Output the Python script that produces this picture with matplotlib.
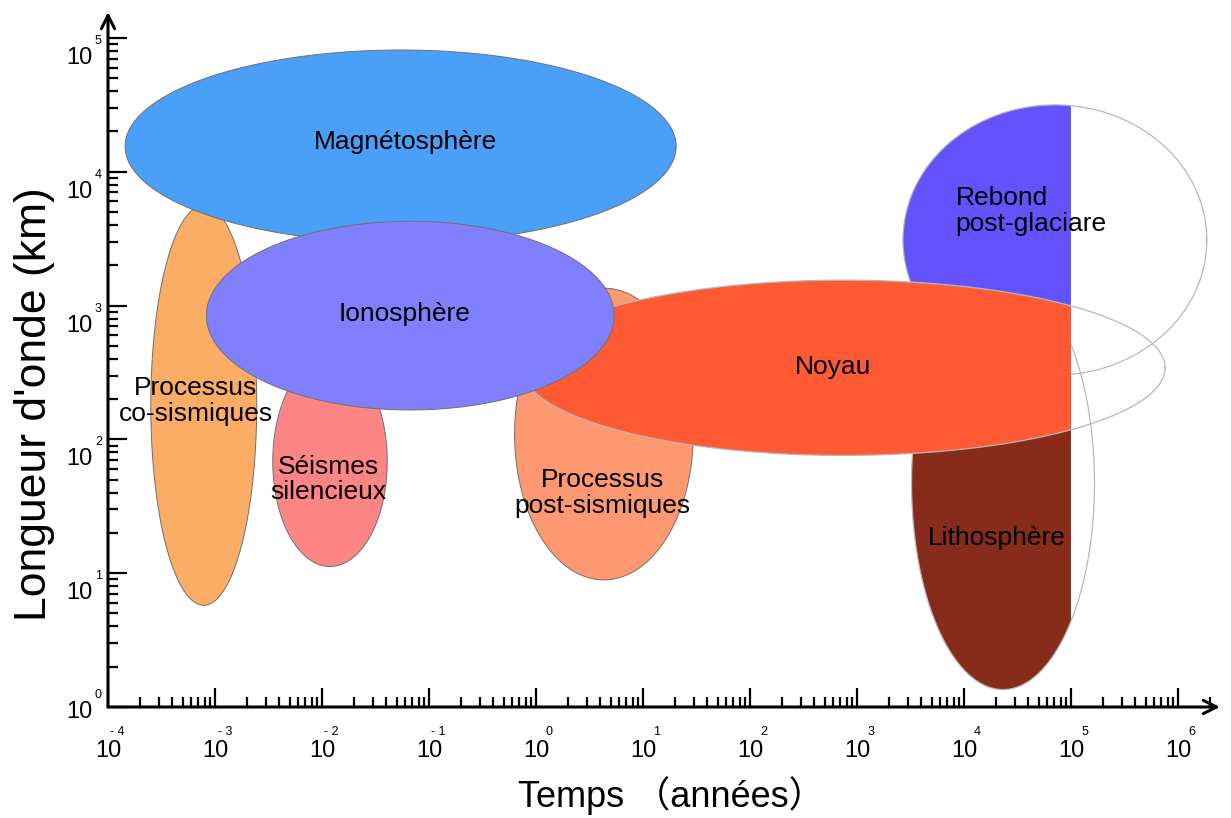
import numpy as np
import matplotlib.pyplot as plt
from matplotlib.transforms import blended_transform_factory, offset_copy

plt.rcParams['font.family'] = ['Liberation Sans', 'DejaVu Sans']

# Domaines, dans l'ordre de dessin (du fond vers l'avant)
# étendues en exposants décimaux : temps en années, longueur d'onde en km
domaines = ['Processus\nco-sismiques', 'Magnétosphère', 'Séismes\nsilencieux',
            'Processus\npost-sismiques', 'Lithosphère', 'Rebond\npost-glaciare',
            'Noyau', 'Ionosphère']
t_bas = [-3.60, -3.84, -2.46, -0.20, 3.51, 3.43, -0.13, -3.08]
t_haut = [-2.61, 1.31, -1.39, 1.47, 5.22, 6.27, 5.88, 0.73]
l_bas = [0.76, 3.47, 1.05, 0.95, 0.13, 2.48, 1.88, 2.22]
l_haut = [3.75, 4.91, 2.62, 3.13, 3.22, 4.50, 3.19, 3.63]
couleurs = ['#fbad66', '#4aa0f8', '#fe8585', '#fe9870', '#872b1b', '#6452fe',
            '#ff5a33', '#8080fe']
# seule la partie avant 1e5 ans est remplie pour ces domaines
coupe = [False, False, False, False, True, True, True, False]
t_coupe = 5.0

# position des étiquettes (exposants)
etiq_t = [-3.18, -1.22, -1.94, 0.62, 4.31, 3.92, 2.78, -1.23]
etiq_l = [2.29, 4.22, 1.70, 1.60, 1.26, 3.71, 2.54, 2.94]
etiq_ha = ['center'] * 5 + ['left'] + ['center'] * 2

x_exp = np.arange(-4, 7)
y_exp = np.arange(0, 6)

fig = plt.figure(figsize=(12.31, 8.18), dpi=100)
ax = fig.add_axes([108 / 1231, 111 / 818, 1112 / 1231, 695 / 818])
ax.set_xscale('log')
ax.set_yscale('log')

th = np.linspace(0, 2 * np.pi, 721)
for i in range(len(domaines)):
    cx, rx = (t_bas[i] + t_haut[i]) / 2, (t_haut[i] - t_bas[i]) / 2
    cy, ry = (l_bas[i] + l_haut[i]) / 2, (l_haut[i] - l_bas[i]) / 2
    lx = cx + rx * np.cos(th)
    ly = cy + ry * np.sin(th)
    z = 2 + i
    if coupe[i]:
        ax.fill(10 ** np.minimum(lx, t_coupe), 10 ** ly, color=couleurs[i], lw=0, zorder=z)
        ax.plot(10 ** lx, 10 ** ly, color='#b8b8b8', lw=0.9, zorder=z)
    else:
        ax.fill(10 ** lx, 10 ** ly, facecolor=couleurs[i], edgecolor='#707070',
                lw=0.7, zorder=z)

for i in range(len(domaines)):
    ax.text(10 ** etiq_t[i], 10 ** etiq_l[i], domaines[i], ha=etiq_ha[i], va='center',
            fontsize=19, linespacing=1.1, zorder=20, color='black')

# axes avec flèches
for s in ax.spines.values():
    s.set_visible(False)
for bout in [(1, 0), (0, 1)]:
    ax.annotate('', xy=bout, xytext=(0, 0), xycoords='axes fraction',
                arrowprops=dict(arrowstyle='->', lw=2.2, color='black',
                                mutation_scale=24, shrinkA=0, shrinkB=0),
                annotation_clip=False, zorder=30)

ax.set_xticks(10.0 ** x_exp)
ax.set_yticks(10.0 ** y_exp)
ax.set_xticks([m * 10.0 ** k for k in x_exp[:-1] for m in range(2, 10)] + [2e6], minor=True)
ax.set_yticks([m * 10.0 ** k for k in y_exp[:-1] for m in range(2, 10)], minor=True)
ax.tick_params(which='major', direction='in', length=14, width=1.6, color='black',
               labelbottom=False, labelleft=False)
ax.tick_params(which='minor', direction='in', length=7, width=1.6, color='black')
ax.set_xlim(1e-4, 10 ** 6.393)
ax.set_ylim(1, 10 ** 5.194)

# libellés des graduations : "10" et exposant séparés
tx = blended_transform_factory(ax.transData, ax.transAxes)
for k in x_exp:
    ax.text(10.0 ** k, 0, '10', transform=offset_copy(tx, fig, x=0, y=-44, units='dots'),
            ha='center', va='center', fontsize=17, clip_on=False)
    ax.text(10.0 ** k, 0, str(k).replace('-', '- ') if k < 0 else str(k),
            transform=offset_copy(tx, fig, x=17, y=-25, units='dots'),
            ha='right', va='center', fontsize=9, clip_on=False)

ty = blended_transform_factory(ax.transAxes, ax.transData)
for k in y_exp:
    dy = 5 if k == 0 else 20
    ax.text(0, 10.0 ** k, '10', transform=offset_copy(ty, fig, x=-15, y=-dy, units='dots'),
            ha='right', va='center', fontsize=17, clip_on=False)
    ax.text(0, 10.0 ** k, str(k), transform=offset_copy(ty, fig, x=-13, y=-dy + 17, units='dots'),
            ha='left', va='center', fontsize=9, clip_on=False)

fig.text(671 / 1231, 1 - 796 / 818, 'Temps （années）', ha='center', va='center',
         fontsize=26, family=['Liberation Sans Narrow', 'Liberation Sans', 'Noto Sans CJK SC'])
fig.text(35 / 1231, 1 - 404 / 818, "Longueur d'onde (km)", ha='center', va='center',
         rotation=90, fontsize=32)

fig.savefig('out.png', dpi=100)
